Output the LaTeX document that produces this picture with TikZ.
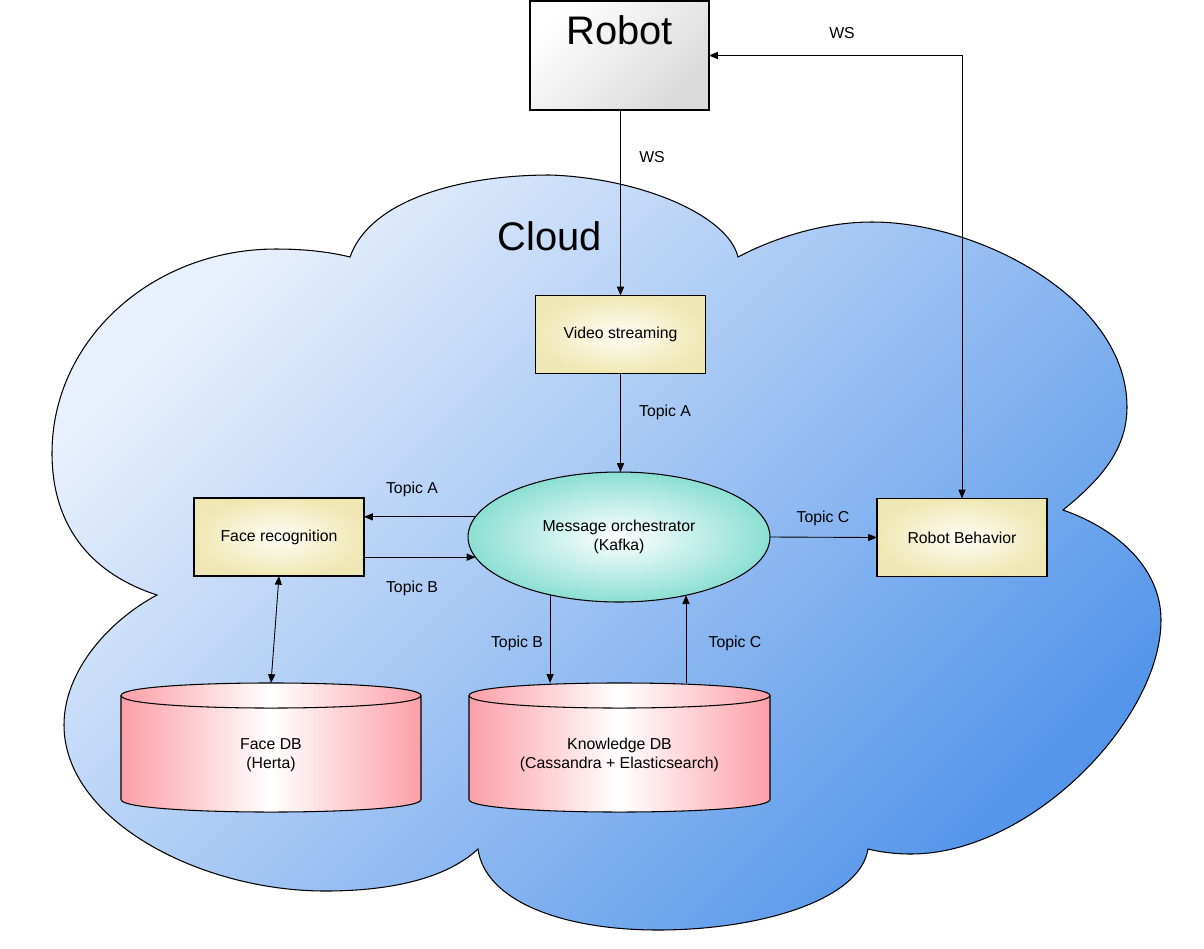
\documentclass[tikz,border=0pt]{standalone}
\usepackage{fontspec}
\setmainfont{Liberation Sans}
\usetikzlibrary{shapes.geometric,arrows.meta}

\definecolor{cloudlight}{HTML}{E8F0FC}
\definecolor{clouddark}{HTML}{5596EA}
\definecolor{boxyellow}{HTML}{F0E8B4}
\definecolor{boxwhite}{HTML}{FDFDF6}
\definecolor{orchteal}{HTML}{8CDFD3}
\definecolor{dbpink}{HTML}{FC9FA8}
\definecolor{robotgray}{HTML}{DADADA}

\begin{document}
\begin{tikzpicture}[x=0.02cm, y=-0.02cm,
  every node/.style={font=\fontsize{9pt}{10.5pt}\selectfont},
  big/.style={font=\fontsize{22.7pt}{27pt}\selectfont},
  service/.style={draw, line width=0.6pt, inner sep=0pt, outer sep=0pt, minimum width=3.4cm, minimum height=1.56cm, inner color=boxwhite, outer color=boxyellow},
  dbspace/.style={anchor=north, inner sep=0pt, outer sep=0pt, minimum width=6cm, minimum height=2.88cm, align=center},
  dbbody/.style={draw, line width=0.6pt, left color=dbpink, right color=dbpink, middle color=white},
  link/.style={line width=0.5pt, -{Triangle[length=5pt,width=4pt]}},
  both/.style={line width=0.5pt, {Triangle[length=5pt,width=4pt]}-{Triangle[length=5pt,width=4pt]}}]

\useasboundingbox (0,0) rectangle (1204,948);

\shade[draw, line width=0.6pt, top color=cloudlight, bottom color=clouddark, shading angle=45]
  (157,595) .. controls (95,575) and (52,530) .. (52,453)
  .. controls (52,340) and (152,249) .. (276,249)
  .. controls (305,249) and (330,252) .. (350,257)
  .. controls (370,200) and (460,175) .. (550,175)
  .. controls (640,178) and (728,215) .. (738,257)
  .. controls (770,240) and (820,222) .. (872,222)
  .. controls (980,222) and (1127,300) .. (1127,407)
  .. controls (1127,450) and (1100,480) .. (1063,510)
  .. controls (1120,530) and (1161,570) .. (1161,620)
  .. controls (1161,720) and (1030,854) .. (911,854)
  .. controls (895,854) and (880,852) .. (868,849)
  .. controls (860,900) and (760,930) .. (658,930)
  .. controls (560,930) and (485,900) .. (478,849)
  .. controls (450,875) and (400,891) .. (325,891)
  .. controls (200,891) and (64,820) .. (64,725)
  .. controls (64,670) and (110,620) .. (157,595) -- cycle;

\node[big] (cloud title) at (550,236) {Cloud};

\node[draw, line width=0.6pt, inner sep=0pt, outer sep=0pt, minimum width=3.58cm, minimum height=2.18cm, top color=white, bottom color=robotgray, shading angle=45, label={[big, anchor=north, yshift=-4.5pt]north:Robot}] (robot) at (619.5,55.5) {};

\node[service] (video streaming) at (620.5,334.5) {Video streaming};

\node[ellipse, draw, line width=0.6pt, inner sep=0pt, outer sep=0pt, minimum width=6.04cm, minimum height=2.6cm, inner color=white, outer color=orchteal, align=center] (orchestrator) at (619,537) {Message orchestrator\\(Kafka)};

\node[service] (face recognition) at (279,537) {Face recognition};
\node[service] (robot behavior) at (962,537.5) {Robot Behavior};

\shade[dbbody] (121,695.5) -- (121,799.5) .. controls (121,816.2) and (421,816.2) .. (421,799.5)
  -- (421,695.5) .. controls (421,678.8) and (121,678.8) .. (121,695.5) -- cycle;
\draw[line width=0.6pt] (121,695.5) .. controls (121,712.2) and (421,712.2) .. (421,695.5);
\node[dbspace] (face db) at (271,683) {Face DB\\(Herta)};

\shade[dbbody] (469,695.5) -- (469,799.5) .. controls (469,816.2) and (770,816.2) .. (770,799.5)
  -- (770,695.5) .. controls (770,678.8) and (469,678.8) .. (469,695.5) -- cycle;
\draw[line width=0.6pt] (469,695.5) .. controls (469,712.2) and (770,712.2) .. (770,695.5);
\node[dbspace] (knowledge db) at (619.5,683) {Knowledge DB\\(Cassandra + Elasticsearch)};

\node (ws down) at (652,157) {WS};
\node (ws back) at (842,33) {WS};
\node (topic a video) at (665,412) {Topic A};
\node (topic a face) at (412,489) {Topic A};
\node (topic b face) at (412,588) {Topic B};
\node (topic c behavior) at (823,518) {Topic C};
\node (topic b db) at (517,643) {Topic B};
\node (topic c db) at (735,643) {Topic C};

\draw[link] (robot.south -| video streaming.north) to (video streaming.north);
\draw[both] (robot.east) -| (robot behavior.north);

\draw[link] (video streaming.south) to (orchestrator.north -| video streaming.south);

\draw[link] (orchestrator.172) to (face recognition.east |- orchestrator.172);
\draw[link] (face recognition.east |- orchestrator.188) to (orchestrator.188);
\draw[link] (orchestrator.east) to (robot behavior.west);

\draw[both] (face recognition.south) to (face db.north);
\draw[link] (orchestrator.220) to (orchestrator.220 |- knowledge db.north);
\draw[link] (orchestrator.319 |- knowledge db.north) to (orchestrator.319);

\end{tikzpicture}
\end{document}
